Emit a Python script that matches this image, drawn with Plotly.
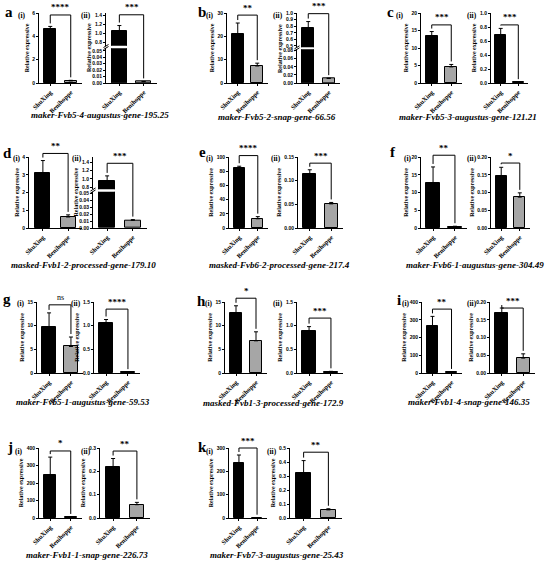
import plotly.graph_objects as go

W, H = 550, 562
SERIF = "Liberation Serif"
SANS = "Liberation Sans"

groups = ["ShuXing", "Benihoppe"]
letters = ["a", "b", "c", "d", "e", "f", "g", "h", "i", "j", "k"]
genes = [
    "maker-Fvb5-4-augustus-gene-195.25",
    "maker-Fvb5-2-snap-gene-66.56",
    "maker-Fvb5-3-augustus-gene-121.21",
    "masked-Fvb1-2-processed-gene-179.10",
    "masked-Fvb6-2-processed-gene-217.4",
    "maker-Fvb6-1-augustus-gene-304.49",
    "maker-Fvb5-1-augustus-gene-59.53",
    "masked-Fvb1-3-processed-gene-172.9",
    "maker-Fvb1-4-snap-gene-146.35",
    "maker-Fvb1-1-snap-gene-226.73",
    "maker-Fvb7-3-augustus-gene-25.43",
]

# two sub-panels per gene, (i) then (ii)
shuxing = [4.6, 1.05, 21.0, 0.78, 13.4, 0.68, 3.1, 0.95, 85.0, 0.115, 12.7, 0.147,
           9.7, 1.05, 12.7, 0.88, 262, 0.168, 245, 0.22, 237, 0.325]
shuxing_sd = [0.25, 0.13, 4.7, 0.09, 1.3, 0.1, 0.7, 0.12, 2.0, 0.008, 4.5, 0.024,
              3.0, 0.08, 1.5, 0.1, 57, 0.015, 103, 0.035, 33, 0.085]
benihoppe = [0.18, 0.002, 7.3, 0.011, 4.6, 0.01, 0.62, 0.011, 13.0, 0.051, 0.4, 0.087,
             5.6, 0.015, 6.8, 0.03, 5, 0.042, 5, 0.057, 1, 0.058]
benihoppe_sd = [0.05, 0.0005, 1.2, 0.001, 0.7, 0.002, 0.12, 0.001, 3.0, 0.003, 0.1, 0.012,
                2.0, 0.003, 1.9, 0.005, 1, 0.012, 1, 0.01, 0.3, 0.008]
signif = ["****", "***", "**", "***", "***", "***", "**", "***", "****", "***", "**", "*",
          "ns", "****", "*", "***", "**", "***", "*", "**", "***", "**"]
bracket_at = [5.83, 1.42, 29.1, 0.99, 16.6, 0.83, 4.2, 1.37, 102, 0.137, 20.5, 0.183,
              14.4, 1.35, 15.8, 1.16, 360, 0.183, 383, 0.287, 300, 0.47]

yticks = [
    ["0", "2", "4", "6"],
    ["0.00", "0.01", "0.02", "0.03", "0.04", "0.05"],
    ["0", "10", "20", "30"],
    ["0.00", "0.02", "0.04", "0.06", "0.08"],
    ["0", "5", "10", "15", "20"],
    ["0.0", "0.2", "0.4", "0.6", "0.8", "1.0"],
    ["0", "1", "2", "3", "4"],
    ["0.00", "0.01", "0.02", "0.03", "0.04", "0.05"],
    ["0", "20", "40", "60", "80", "100"],
    ["0.00", "0.05", "0.10", "0.15"],
    ["0", "5", "10", "15", "20"],
    ["0.00", "0.05", "0.10", "0.15", "0.20"],
    ["0", "5", "10", "15"],
    ["0.0", "0.5", "1.0", "1.5"],
    ["0", "5", "10", "15"],
    ["0.0", "0.5", "1.0", "1.5"],
    ["0", "100", "200", "300", "400"],
    ["0.00", "0.05", "0.10", "0.15", "0.20"],
    ["0", "100", "200", "300", "400"],
    ["0.0", "0.1", "0.2", "0.3"],
    ["0", "100", "200", "300"],
    ["0.0", "0.1", "0.2", "0.3", "0.4", "0.5"],
]
upper_yticks = {
    1: ["0.8", "1.0", "1.2", "1.4"],
    3: ["0.5", "0.6", "0.7", "0.8", "0.9", "1.0"],
    7: ["0.8", "1.0", "1.2", "1.4"],
}

# ---- layout (pixels) ----
rows_y = [(13, 83), (157, 228), (302, 373), (448, 518)]
boxes = [
    (39, 82), (106, 157), (227, 268), (297, 340), (421, 462), (491, 528),
    (29, 82), (93, 147), (229, 268), (298, 343), (421, 467), (491, 530),
    (37, 83), (94, 140), (225, 267), (297, 343), (422, 462), (490, 535),
    (39, 82), (100, 150), (229, 267), (290, 342),
]
roman_right = [28, 93, 216, 285, 406, 479, 23, 84, 216, 283, 414, 479,
               27, 83, 215, 285, 412, 479, 25, 93, 216, 279]
roman_y = [15.5, 158, 303, 451]
broken = {
    1: dict(lower=[0, 0.054], upper=[0.73, 1.46], split=(48.3, 45.7)),
    3: dict(lower=[0, 0.083], upper=[0.48, 1.0], split=(49.3, 47.3)),
    7: dict(lower=[0, 0.052], upper=[0.75, 1.52], split=(191.7, 189.3)),
}
gene_pos = [(100, 115), (277, 117), (468, 117), (83, 265), (280, 265), (475, 265),
            (83, 402), (273, 403), (469, 402), (87, 555), (277, 555)]
letter_pos = [(9, 12), (202, 12), (390, 12), (7, 153), (202, 152), (393, 152),
              (7, 299), (201, 301), (399, 300), (10, 447), (202, 447)]

XR = [-0.55, 1.55]


def px_x(p):
    return p / W


def px_y(p):
    return 1 - p / H


def xpix(x0, x1, v):
    return x0 + (v - XR[0]) / (XR[1] - XR[0]) * (x1 - x0)


def ypix(ytop, ybot, yr, v):
    return ybot - (v - yr[0]) / (yr[1] - yr[0]) * (ybot - ytop)


fig = go.Figure()
layout = {}
shapes = []
annotations = []
n_ax = 0


def add_axes(x0, x1, ytop, ybot, yr, labels, show_x, ytitle):
    global n_ax
    n_ax += 1
    s = "" if n_ax == 1 else str(n_ax)
    layout["xaxis" + s] = dict(
        domain=[px_x(x0), px_x(x1)], anchor="y" + s, type="category", range=XR,
        showline=show_x, linecolor="black", linewidth=1,
        ticks="outside" if show_x else "", ticklen=2, tickwidth=1, tickcolor="black",
        tickangle=-45, showticklabels=show_x,
        tickfont=dict(family=SERIF, size=6.5, color="black", weight="bold"),
        showgrid=False, zeroline=False, automargin=False, fixedrange=True,
    )
    layout["yaxis" + s] = dict(
        domain=[px_y(ybot), px_y(ytop)], anchor="x" + s, range=yr,
        tickvals=[float(t) for t in labels], ticktext=labels,
        showline=True, linecolor="black", linewidth=1,
        ticks="outside", ticklen=2, tickwidth=1, tickcolor="black",
        tickfont=dict(family=SANS, size=5, color="black", weight="bold"),
        title=dict(text="Relative expressive" if ytitle else "",
                   font=dict(family=SERIF, size=6, color="black", weight="bold"),
                   standoff=2),
        showgrid=False, zeroline=False, automargin=False, fixedrange=True,
    )
    return "x" + s, "y" + s


def add_bars(k, xr, yr):
    fig.add_trace(go.Bar(
        x=groups, y=[shuxing[k], benihoppe[k]], width=0.6,
        marker=dict(color=["black", "#a6a6a6"], line=dict(color="black", width=1)),
        error_y=dict(type="data", symmetric=False,
                     array=[shuxing_sd[k], benihoppe_sd[k]], arrayminus=[0, 0],
                     color="black", thickness=1, width=2),
        xaxis=xr, yaxis=yr, showlegend=False, hoverinfo="skip",
    ))


def line(x0, y0, x1, y1):
    shapes.append(dict(type="line", xref="paper", yref="paper",
                       x0=px_x(x0), y0=px_y(y0), x1=px_x(x1), y1=px_y(y1),
                       line=dict(color="black", width=1)))


for k in range(22):
    g = k // 2
    ytop, ybot = rows_y[g // 3]
    x0, x1 = boxes[k]
    xl, xrt = xpix(x0, x1, 0), xpix(x0, x1, 1)

    if k in broken:
        b = broken[k]
        low_top, up_bot = b["split"]
        xa, ya = add_axes(x0, x1, low_top, ybot, b["lower"], yticks[k], True, False)
        add_bars(k, xa, ya)
        xa2, ya2 = add_axes(x0, x1, ytop, up_bot, b["upper"], upper_yticks[k], False, False)
        add_bars(k, xa2, ya2)
        yb = ypix(ytop, up_bot, b["upper"], bracket_at[k])
        yl = ypix(ytop, up_bot, b["upper"], shuxing[k] + shuxing_sd[k]) - 3
        yr_ = ypix(low_top, ybot, b["lower"], benihoppe[k] + benihoppe_sd[k]) - 3
        # break marks on the y axis
        gc = (low_top + up_bot) / 2
        line(x0 - 2.5, gc + 2.5, x0 + 2.5, gc - 0.5)
        line(x0 - 2.5, gc + 0.5, x0 + 2.5, gc - 2.5)
        annotations.append(dict(
            x=px_x(x0 - 17), y=px_y((ytop + ybot) / 2), xref="paper", yref="paper",
            text="Relative expressive", textangle=-90, showarrow=False,
            font=dict(family=SERIF, size=6, color="black", weight="bold"),
            xanchor="center", yanchor="middle"))
    else:
        yrng = [0, max(float(t) for t in yticks[k])]
        xa, ya = add_axes(x0, x1, ytop, ybot, yrng, yticks[k], True, True)
        add_bars(k, xa, ya)
        yb = ypix(ytop, ybot, yrng, bracket_at[k])
        yl = ypix(ytop, ybot, yrng, shuxing[k] + shuxing_sd[k]) - 3
        yr_ = ypix(ytop, ybot, yrng, benihoppe[k] + benihoppe_sd[k]) - 3

    # significance bracket
    line(xl, yl, xl, yb)
    line(xl, yb, xrt, yb)
    line(xrt, yb, xrt, yr_)
    is_ns = signif[k] == "ns"
    annotations.append(dict(
        x=px_x((xl + xrt) / 2), y=px_y(yb - 0.5), xref="paper", yref="paper",
        text=signif[k], showarrow=False, xanchor="center", yanchor="bottom",
        font=dict(family=SERIF, size=8 if is_ns else 9, color="black",
                  weight="normal" if is_ns else "bold")))

    # (i) / (ii)
    annotations.append(dict(
        x=px_x(roman_right[k]), y=px_y(roman_y[g // 3]), xref="paper", yref="paper",
        text="(i)" if k % 2 == 0 else "(ii)", showarrow=False,
        xanchor="right", yanchor="middle",
        font=dict(family=SERIF, size=7.5, color="black", weight="bold")))

for g in range(11):
    cx, cy = gene_pos[g]
    annotations.append(dict(
        x=px_x(cx), y=px_y(cy), xref="paper", yref="paper", text=genes[g],
        showarrow=False, xanchor="center", yanchor="middle",
        font=dict(family=SERIF, size=9, color="black", weight="bold", style="italic")))
    lx, ly = letter_pos[g]
    annotations.append(dict(
        x=px_x(lx), y=px_y(ly), xref="paper", yref="paper", text=letters[g],
        showarrow=False, xanchor="center", yanchor="middle",
        font=dict(family=SERIF, size=15, color="black", weight="bold")))

fig.update_layout(
    width=W, height=H, autosize=False,
    margin=dict(l=0, r=0, t=0, b=0),
    paper_bgcolor="white", plot_bgcolor="white",
    bargap=0, showlegend=False,
    shapes=shapes, annotations=annotations,
    **layout,
)

# the page body has a default 8px margin; drop it so the figure fills the window
fig.write_html("out.html", config={"displayModeBar": False},
               post_script="document.body.style.margin = '0';")
